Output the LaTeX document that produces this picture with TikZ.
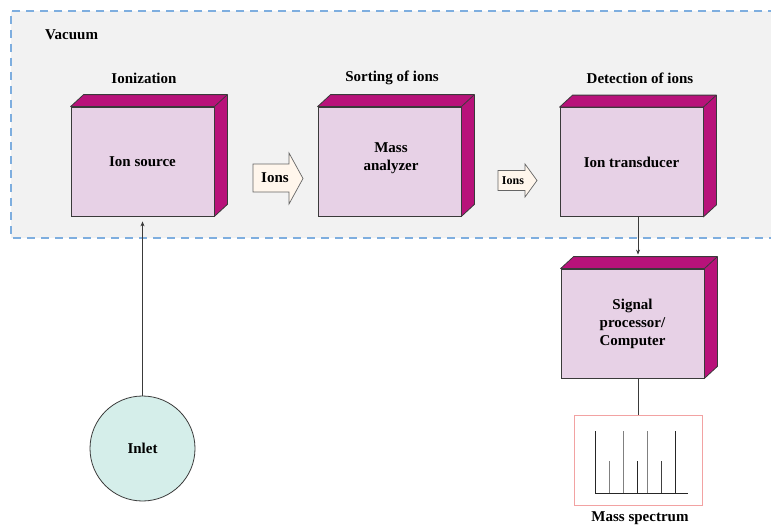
\documentclass[tikz,border=0pt]{standalone}
\usepackage{fontspec}
\setmainfont{Liberation Serif}
\usetikzlibrary{calc,arrows.meta}
\definecolor{facec}{HTML}{E7D1E6}
\definecolor{sidec}{HTML}{B8127A}
\definecolor{bordc}{HTML}{3A3A3A}
\definecolor{bgc}{HTML}{F2F2F2}
\definecolor{dashc}{HTML}{7EAEDF}
\definecolor{inletc}{HTML}{D5EEEA}
\definecolor{arrowc}{HTML}{FFF6EC}
\definecolor{specc}{HTML}{F2A2A2}
\newcommand\lblfont{\bfseries\fontsize{15}{18}\selectfont}
\newcommand\smallfont{\bfseries\fontsize{12}{14}\selectfont}
\newcommand\sidebox[1]{%
  \draw[sidepart] (#1.north west) -- ++(13,-12) -- ($(#1.north east)+(13,-12)$)
    -- ($(#1.south east)+(13,-12)$) -- (#1.south east) -- (#1.north east) -- cycle;
  \draw[sidepart] (#1.north east) -- ++(13,-12);}
\begin{document}
\begin{tikzpicture}[x=1pt,y=-1pt,
  face/.style={draw=bordc,fill=facec,line width=0.8pt,minimum width=143pt,
    minimum height=109pt,inner sep=0pt,align=center,font=\lblfont},
  sidepart/.style={draw=bordc,fill=sidec,line width=0.8pt,line join=round},
  lbl/.style={font=\lblfont,inner sep=0pt,align=center},
  conn/.style={draw=bordc,line width=0.7pt},
  arr/.style={conn,-{Stealth[length=5pt,width=4pt]}},
  ionarrow/.style={draw=gray!80!black,fill=arrowc,line width=0.7pt,line join=miter},
  peak/.style={line width=1pt}]
\useasboundingbox (0,0) rectangle (771,527);
% vacuum region
\path[fill=bgc] (11,11) rectangle (790,238);
\draw[dashc,line width=1.1pt,dash pattern=on 8pt off 6pt] (790,11) -- (11,11) -- (11,238) -- (790,238);
\node[lbl,anchor=west] (vac) at (45,35) {Vacuum};
% headings
\node[lbl] (h1) at (144,78) {Ionization};
\node[lbl] (h2) at (392,78) {Sorting of ions};
\node[lbl] (h3) at (640,78) {Detection of ions};
% boxes
\node[face] (src) at (142.5,161.5) {Ion source};
\sidebox{src}
\node[face] (mass) at (389.5,161.5) {};
\sidebox{mass}
\node[lbl] (masst) at (391,158) {Mass\\analyzer};
\node[face] (trans) at (631.5,162) {Ion transducer};
\sidebox{trans}
\node[face] (sig) at (632.5,323.5) {Signal\\processor/\\Computer};
\sidebox{sig}
% ion arrows
\draw[ionarrow] (253,164) -- (289,164) -- (289,153) -- (303,178.5) -- (289,204) -- (289,192) -- (253,192) -- cycle;
\node[lbl] (ions1) at (275,177.5) {Ions};
\draw[ionarrow] (498,170.5) -- (525,170.5) -- (525,164) -- (537,180.5) -- (525,197) -- (525,190.5) -- (498,190.5) -- cycle;
\node[font=\smallfont,inner sep=0pt] (ions2) at (513,180.5) {Ions};
% inlet
\node[circle,draw=bordc,fill=inletc,line width=0.8pt,minimum size=105pt,font=\lblfont] (inlet) at (142.5,448.5) {Inlet};
\draw[arr,shorten >=5pt] (inlet.north) -- (src.south);
% transducer to signal processor
\coordinate (tbot) at ($(trans.south)+(6.5,0)$);
\coordinate (stop) at ($(sig.north)+(5.5,-12)$);
\draw[arr,shorten >=2pt] (tbot) -- (tbot |- stop);
% spectrum
\node[draw=specc,line width=0.8pt,minimum width=128pt,minimum height=90pt,inner sep=0pt] (spec) at (638,460) {};
\coordinate (sbot) at ($(sig.south)+(5.5,0)$);
\draw[conn] (sbot) -- (sbot |- spec.north);
\node[lbl] (spect) at (640,518) {Mass spectrum};
\draw[line width=1pt,black!85] (595,493) -- (688,493);
\draw[peak,black!85] (595,493) -- (595,431);
\draw[peak,gray] (609,493) -- (609,461);
\draw[peak,gray] (623,493) -- (623,431);
\draw[peak,black!85] (637,493) -- (637,461);
\draw[peak,gray] (647,493) -- (647,431);
\draw[peak,black!75] (661,493) -- (661,461);
\draw[peak,black!85] (675,493) -- (675,431);
\end{tikzpicture}
\end{document}
